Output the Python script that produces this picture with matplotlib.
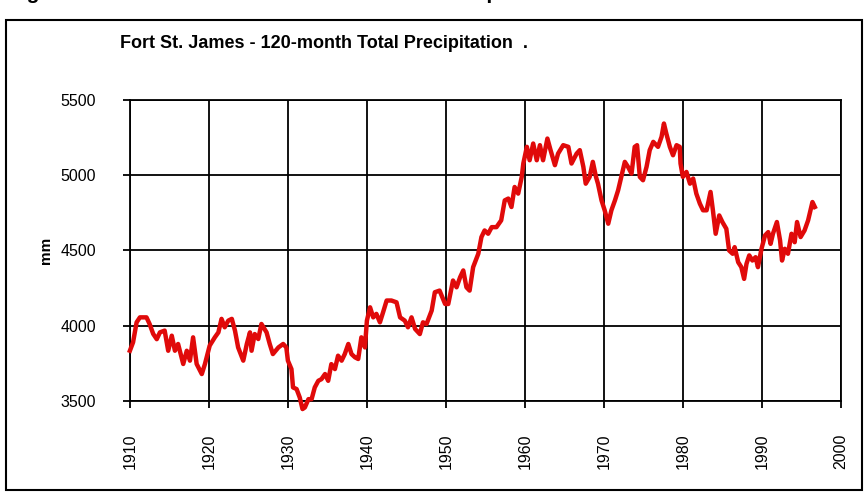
import matplotlib.pyplot as plt
from matplotlib.patches import Rectangle

# 120-month running total precipitation
years = [
    1910.0, 1910.4, 1910.85, 1911.27, 1912.1, 1912.5, 1912.95, 1913.4, 1913.8, 1914.4,
    1914.85, 1915.3, 1915.7, 1916.1, 1916.75, 1917.2, 1917.6, 1918.0, 1918.45, 1919.1,
    1919.5, 1920.1, 1920.75, 1921.2, 1921.6, 1922.0, 1922.45, 1922.9, 1923.3, 1923.7,
    1924.35, 1924.8, 1925.2, 1925.4, 1925.8, 1926.25, 1926.65, 1927.3, 1927.7, 1928.1,
    1928.8, 1929.4, 1929.8, 1930.0, 1930.45, 1930.65, 1931.1, 1931.5, 1931.85, 1932.15,
    1932.6, 1933.0, 1933.4, 1933.85, 1934.25, 1934.7, 1935.1, 1935.5, 1935.95, 1936.35,
    1936.8, 1937.2, 1937.65, 1938.05, 1938.5, 1938.9, 1939.3, 1939.75, 1940.0, 1940.4,
    1940.8, 1941.2, 1941.65, 1942.05, 1942.5, 1943.1, 1943.75, 1944.2, 1944.8, 1945.2,
    1945.65, 1946.1, 1946.7, 1947.1, 1947.55, 1948.2, 1948.6, 1949.2, 1949.9, 1950.3,
    1950.9, 1951.35, 1951.8, 1952.2, 1952.6, 1953.0, 1953.45, 1954.1, 1954.5, 1954.9,
    1955.35, 1955.8, 1956.4, 1957.0, 1957.45, 1957.9, 1958.3, 1958.7, 1959.15, 1959.6,
    1959.8, 1960.25, 1960.6, 1961.05, 1961.5, 1961.9, 1962.3, 1962.85, 1963.25, 1963.8,
    1964.2, 1964.85, 1965.5, 1965.9, 1966.55, 1966.95, 1967.4, 1967.7, 1968.2, 1968.6,
    1969.0, 1969.25, 1969.7, 1970.1, 1970.55, 1970.95, 1971.4, 1971.8, 1972.2, 1972.65,
    1973.05, 1973.5, 1973.9, 1974.2, 1974.55, 1974.95, 1975.4, 1975.8, 1976.25, 1976.85,
    1977.3, 1977.6, 1977.9, 1978.35, 1978.75, 1979.2, 1979.6, 1979.7, 1980.0, 1980.45,
    1980.9, 1981.3, 1981.7, 1982.15, 1982.55, 1983.0, 1983.5, 1983.8, 1984.15, 1984.6,
    1985.0, 1985.5, 1985.85, 1986.3, 1986.55, 1987.0, 1987.4, 1987.75, 1988.05, 1988.4,
    1988.8, 1989.2, 1989.5, 1989.95, 1990.4, 1990.8, 1991.1, 1991.4, 1991.9, 1992.3,
    1992.55, 1992.9, 1993.3, 1993.75, 1994.15, 1994.45, 1994.9, 1995.4, 1995.85, 1996.15,
    1996.4, 1996.7,
]
precip = [
    3833, 3889, 4022, 4055, 4055, 4010, 3945, 3910, 3955, 3967,
    3833, 3933, 3833, 3878, 3745, 3833, 3767, 3922, 3745, 3678,
    3745, 3867, 3922, 3955, 4045, 3989, 4033, 4045, 3967, 3855,
    3767, 3878, 3955, 3833, 3944, 3911, 4011, 3955, 3878, 3811,
    3855, 3878, 3855, 3767, 3711, 3589, 3578, 3522, 3445, 3456,
    3511, 3511, 3589, 3633, 3644, 3678, 3633, 3744, 3711, 3800,
    3767, 3811, 3878, 3811, 3789, 3778, 3922, 3855, 4033, 4122,
    4055, 4078, 4022, 4089, 4167, 4167, 4155, 4055, 4033, 3989,
    4055, 3978, 3944, 4022, 4011, 4100, 4222, 4233, 4144, 4144,
    4300, 4255, 4322, 4367, 4255, 4233, 4389, 4478, 4589, 4633,
    4611, 4655, 4655, 4700, 4833, 4845, 4789, 4922, 4878, 4989,
    5078, 5189, 5100, 5211, 5100, 5200, 5100, 5244, 5167, 5067,
    5144, 5200, 5189, 5078, 5144, 5167, 5056, 4944, 4989, 5089,
    4989, 4944, 4833, 4767, 4678, 4767, 4833, 4900, 4989, 5089,
    5056, 5011, 5189, 5200, 4989, 4967, 5056, 5167, 5222, 5189,
    5256, 5344, 5278, 5189, 5133, 5200, 5189, 5078, 4989, 5022,
    4944, 4978, 4878, 4811, 4767, 4767, 4889, 4767, 4611, 4733,
    4689, 4644, 4500, 4478, 4522, 4422, 4389, 4311, 4411, 4467,
    4433, 4455, 4389, 4511, 4600, 4622, 4544, 4611, 4689, 4567,
    4433, 4511, 4478, 4611, 4555, 4689, 4589, 4633, 4700, 4767,
    4822, 4789,
]

x_ticks = list(range(1910, 2001, 10))
y_ticks = [3500, 4000, 4500, 5000, 5500]

plt.rcParams['font.family'] = ['Liberation Sans', 'DejaVu Sans']

fig = plt.figure(figsize=(8.66, 4.93), dpi=100)
ax = fig.add_axes([0.150, 0.187, 0.821, 0.610])

ax.plot(years, precip, color='#e00a0a', linewidth=3.2, clip_on=False, zorder=3)

ax.set_xlim(1910, 2000)
ax.set_ylim(3500, 5500)
ax.set_xticks(x_ticks)
ax.set_yticks(y_ticks)
ax.set_xticklabels([str(t) for t in x_ticks], rotation=90, fontsize=11.5)
ax.set_yticklabels([str(t) for t in y_ticks], fontsize=11.5)
ax.tick_params(direction='out', length=5, width=1.3, color='black')
ax.tick_params(axis='x', pad=18.5)
ax.tick_params(axis='y', pad=19.5)
ax.grid(True, color='black', linewidth=1.3)
for s in ax.spines.values():
    s.set_linewidth(1.3)
ax.set_ylabel('mm', fontsize=11, fontweight='bold', labelpad=5)

fig.text(120 / 866, 1 - 43 / 493, 'Fort St. James - 120-month Total Precipitation  .',
         fontsize=13, fontweight='bold', va='center', ha='left')

# heading above the frame, mostly cropped by the figure edge
fig.text(8 / 866, 1 + 1 / 493, 'Figure 9.  Fort St. James - 120-month Total Precipitation',
         fontsize=15, fontweight='bold', va='baseline', ha='left', clip_on=False)

# outer frame
fig.patches.append(Rectangle((6 / 866, 3 / 493), 856 / 866, 470 / 493,
                             transform=fig.transFigure, fill=False,
                             edgecolor='black', linewidth=1.5))

fig.savefig('out.png', dpi=100)
